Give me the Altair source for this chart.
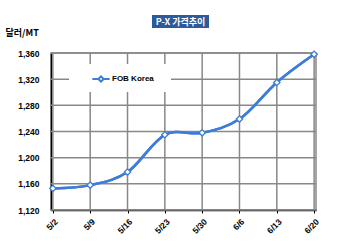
import altair as alt
import pandas as pd

dates = ["5/2", "5/9", "5/16", "5/23", "5/30", "6/6", "6/13", "6/20"]
values = [1153, 1158, 1178, 1235, 1238, 1259, 1315, 1358]
series_name = "FOB Korea"
title_text = "P-X 가격추이"
y_title = "달러/MT"
y_ticks = [1120, 1160, 1200, 1240, 1280, 1320, 1360]

df = pd.DataFrame({"date": dates, "value": values, "series": [series_name] * len(dates)})
ydf = pd.DataFrame({"value": y_ticks})
one = pd.DataFrame({"a": [0]})

BLUE = "#3B7DD8"
GRID = "#888888"
FONT = "Liberation Sans"
KFONT = "Noto Sans CJK KR"

x_scale = alt.Scale(type="point", padding=0.05)
y_scale = alt.Scale(domain=[1120, 1360], nice=False, zero=False)

x_axis = alt.Axis(
    title=None, labelAngle=-45, labelFont=FONT, labelFontWeight="bold",
    labelFontSize=8.5, labelColor="black", grid=False,
    domainColor="black", domainWidth=1.5, tickSize=3, tickColor="black",
    labelPadding=4,
)
y_axis = alt.Axis(
    values=y_ticks, format=",d", title=y_title, titleAngle=0, titleX=-46, titleY=-21,
    titleAlign="left", titleBaseline="middle", titleFont=KFONT, titleFontSize=9,
    titleFontWeight="bold", titleColor="black",
    labelFont=FONT, labelFontWeight="bold", labelFontSize=8.5, labelColor="black",
    labelOverlap=False, grid=False,
    domainColor="black", domainWidth=1.5,
    tickSize=0, labelPadding=12,
)

base = alt.Chart(df)

line = base.mark_line(interpolate="cardinal", strokeWidth=2.5).encode(
    x=alt.X("date:O", sort=dates, scale=x_scale, axis=x_axis),
    y=alt.Y("value:Q", scale=y_scale, axis=y_axis),
    color=alt.Color(
        "series:N",
        scale=alt.Scale(range=[BLUE]),
        legend=alt.Legend(
            title=None, orient="none", legendX=40, legendY=16, padding=0,
            symbolType="M-1,0L-0.3,0M0.3,0L1,0M-0.3,0L0,-0.3L0.3,0L0,0.3Z",
            symbolSize=300, symbolStrokeWidth=2, symbolFillColor="white",
            labelFont=FONT, labelFontWeight="bold", labelFontSize=8,
            labelColor="black", labelOffset=1,
        ),
    ),
)

vgrid = base.mark_rule(color=GRID, strokeWidth=1.5).encode(
    x=alt.X("date:O", sort=dates, scale=x_scale, axis=None)
)
hgrid = alt.Chart(ydf).mark_rule(color=GRID, strokeWidth=1.5).encode(
    y=alt.Y("value:Q", scale=y_scale, axis=None)
)

legend_rect = alt.Chart(one).mark_rect(color="white").encode(
    x=alt.value(18), x2=alt.value(120), y=alt.value(11), y2=alt.value(39)
)

line_top = base.mark_line(interpolate="cardinal", strokeWidth=2.5, color=BLUE).encode(
    x=alt.X("date:O", sort=dates, scale=x_scale, axis=None),
    y=alt.Y("value:Q", scale=y_scale, axis=None),
)

points = base.mark_point(
    shape="diamond", filled=True, fill="white", stroke=BLUE, strokeWidth=1.3, size=40, opacity=1
).encode(
    x=alt.X("date:O", sort=dates, scale=x_scale, axis=None),
    y=alt.Y("value:Q", scale=y_scale, axis=None),
)

title_bg = alt.Chart(one).mark_rect(color="#2F5A9A").encode(
    x=alt.value(101), x2=alt.value(158), y=alt.value(-38), y2=alt.value(-25)
)
title_txt = alt.Chart(one).mark_text(
    text=title_text, color="white", font=KFONT, fontWeight="bold", fontSize=9,
    align="center", baseline="middle",
).encode(x=alt.value(129.5), y=alt.value(-31.5))

chart = alt.layer(
    line, vgrid, hgrid, legend_rect, line_top, points, title_bg, title_txt
).resolve_axis(x="independent", y="independent").properties(
    width=265, height=157,
    autosize=alt.AutoSizeParams(type="none"),
    padding={"left": 51, "top": 53, "right": 34, "bottom": 42},
    background="white",
).configure_view(stroke="#888888", strokeWidth=1.5)

chart.save("out.html", embed_options={"renderer": "svg", "actions": False})
